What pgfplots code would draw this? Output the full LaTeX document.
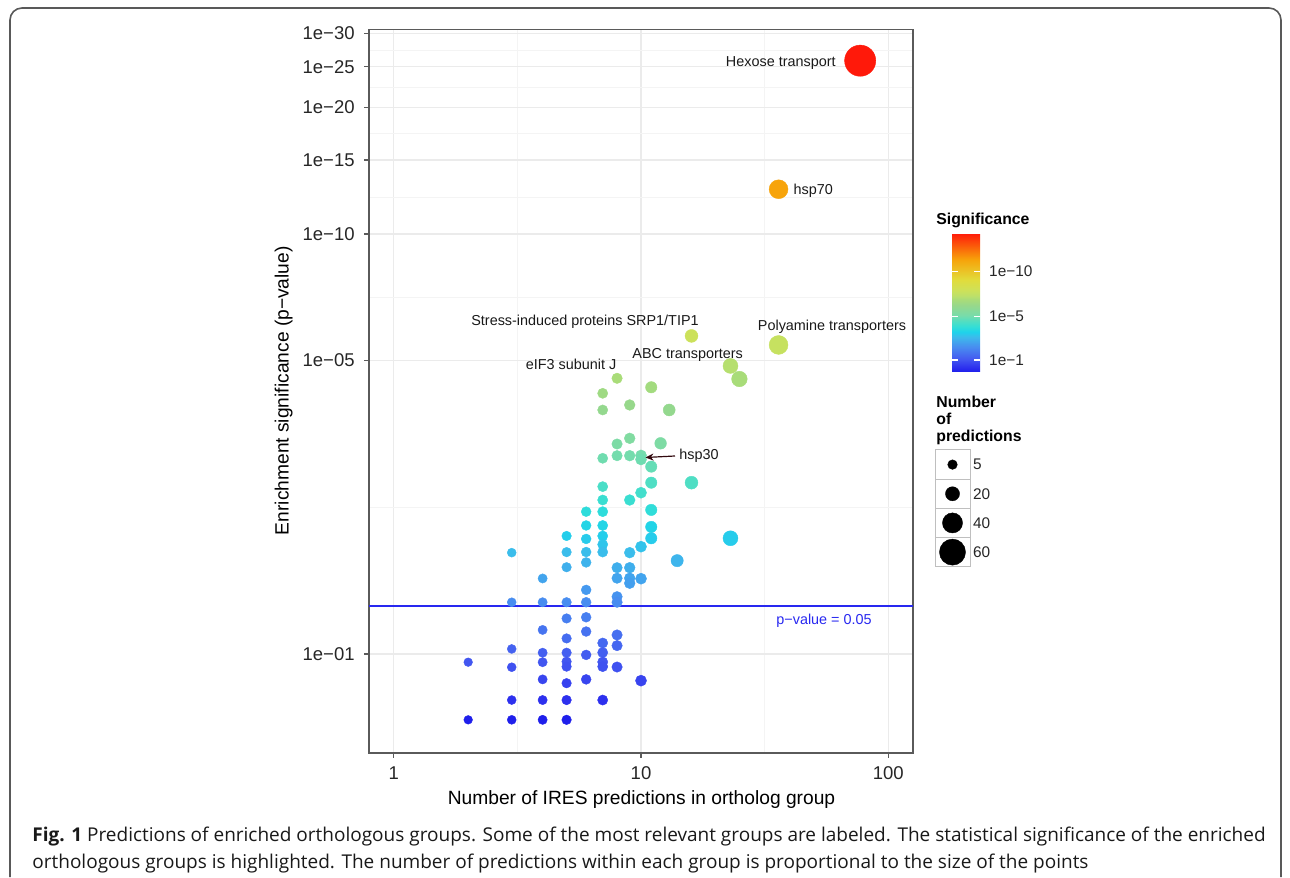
\documentclass[border=0pt]{standalone}
\usepackage{pgfplots}
\usepackage{pgfplotstable}
\pgfplotsset{compat=1.18}
\usepackage{fontspec}
\setmainfont{Liberation Sans}
\newfontfamily\capfont{Open Sans}
\usetikzlibrary{arrows.meta}

\newcommand\fs[2]{\fontsize{#1}{#2}\selectfont}
\definecolor{gridmaj}{HTML}{EBEBEB}
\definecolor{gridmin}{HTML}{F4F4F4}
\definecolor{frame}{HTML}{5A5A5A}
\definecolor{pline}{RGB}{40,40,240}
\definecolor{arrowcol}{RGB}{50,10,15}

% colour scale over log10(-log10 p)
\pgfplotsset{
  colormap={sig}{
    rgb255(0pt)=(30,30,235) rgb255(5pt)=(45,48,238) rgb255(15pt)=(68,90,240)
    rgb255(28pt)=(72,140,240) rgb255(40pt)=(60,188,235) rgb255(45pt)=(30,210,235)
    rgb255(51pt)=(50,222,215) rgb255(57pt)=(80,222,195) rgb255(64pt)=(120,220,170)
    rgb255(75pt)=(150,216,140) rgb255(82pt)=(170,220,120) rgb255(86pt)=(188,224,106)
    rgb255(92pt)=(205,225,90) rgb255(104pt)=(225,220,60) rgb255(127pt)=(247,163,10)
    rgb255(157pt)=(255,25,10)
  }
}

% n = number of IRES predictions, t = -log10(p-value)
\pgfplotstableread{
n t
2 0.956
2 0.697
3 1.743
3 1.328
3 1.028
3 0.930
3 0.777
3 0.697
4 1.513
4 1.328
4 1.141
4 1.007
4 0.956
4 0.870
4 0.777
4 0.697
5 1.910
5 1.748
5 1.609
5 1.328
5 1.215
5 1.089
5 1.007
5 0.959
5 0.933
5 0.852
5 0.777
5 0.697
6 2.182
6 2.023
6 1.879
6 1.749
6 1.652
6 1.421
6 1.328
6 1.223
6 1.131
6 0.995
6 0.870
7 4.175
7 3.811
7 2.924
7 2.503
7 2.326
7 2.182
7 2.023
7 1.910
7 1.823
7 1.749
7 1.062
7 1.008
7 0.957
7 0.933
7 0.777
8 4.533
8 3.162
8 2.966
8 1.605
8 1.515
8 1.369
8 1.328
8 1.110
8 1.047
8 0.931
9 3.917
9 3.262
9 2.966
9 2.326
9 1.743
9 1.605
9 1.515
9 1.474
10 2.970
10 2.905
10 2.421
10 1.801
10 1.511
10 0.864
11 4.315
11 2.793
11 2.558
11 2.203
11 2.007
11 1.886
12 3.174
13 3.811
14 1.668
16 5.719
16 2.558
23 4.851
23 1.886
25 4.516
36 12.78
36 5.443
77 25.86
}\groups

\begin{document}
\begin{tikzpicture}
\path (0,0) rectangle (645pt,438.5pt);

\begin{axis}[
  at={(184.5pt,62pt)}, anchor=south west,
  scale only axis, width=272pt, height=361.85pt,
  xmode=log, ymode=log,
  xmin=0.7943, xmax=125.89, ymin=0.5811, ymax=30.72,
  xtick={1,10,100}, xticklabels={1,10,100},
  ytick={1,5,10,15,20,25,30},
  yticklabels={1e−01,1e−05,1e−10,1e−15,1e−20,1e−25,1e−30},
  minor xtick={3.1623,31.623},
  minor ytick={2.2361,7.0711,12.247,17.321,22.361,27.386},
  grid=both,
  major grid style={draw=gridmaj, line width=0.55pt},
  minor grid style={draw=gridmin, line width=0.35pt},
  minor tick length=0pt,
  tick pos=left, tick align=outside, major tick length=2.5pt,
  major tick style={draw=frame, line width=0.55pt},
  axis line style={draw=frame, line width=0.7pt},
  ticklabel style={font=\fs{9.25}{10}, text=black!85},
  xticklabel style={inner sep=0pt, anchor=north},
  yticklabel style={inner sep=0pt, anchor=east},
  xticklabel shift=4.2pt, yticklabel shift=4.5pt,
  colormap name=sig, point meta min=-0.16, point meta max=1.41,
  colorbar,
  colorbar style={
    at={(parent axis.north east)}, anchor=north west,
    xshift=11pt, yshift=-101.85pt,
    scale only axis, width=14pt, height=69.5pt,
    ytick={-0.0245,0.465,0.973}, yticklabels={1e−1,1e−5,1e−10},
    yticklabel pos=right,
    yticklabel style={font=\fs{7.7}{9}, text=black!85, inner sep=0pt, anchor=west, xshift=4.35pt},
    axis line style={draw=none},
    ytick style={draw=white, line width=0.6pt},
    major tick length=3pt, tick align=inside, ytick pos=both,
  },
]
\addplot[
  scatter, only marks, mark=*,
  mark options={line width=0.2pt},
  point meta={log10(\thisrow{t})},
  scatter/use mapped color={draw=mapped color, fill=mapped color},
  visualization depends on={\thisrow{n} \as \npred},
  scatter/@pre marker code/.append style={/tikz/mark size={2.025pt+0.075pt*\npred}},
] table[x=n, y=t] {\groups};
\addplot[pline, line width=1pt, forget plot] coordinates {(0.7943,1.301) (125.89,1.301)};
\end{axis}

% size legend
\begin{axis}[
  at={(467.5pt,213.5pt)}, anchor=north west, scale only axis,
  width=17.5pt, height=58.35pt,
  xmin=-0.5, xmax=0.5, ymin=-0.5, ymax=3.5, y dir=reverse,
  xtick=\empty, ytick={0,1,2,3}, yticklabels={5,20,40,60},
  yticklabel pos=right, major tick length=0pt,
  minor ytick={0.5,1.5,2.5}, yminorgrids, minor tick length=0pt,
  minor grid style={draw=black!25, line width=0.5pt},
  axis line style={draw=black!25, line width=0.5pt},
  yticklabel style={font=\fs{7.7}{9}, text=black!85, inner sep=0pt, anchor=west, xshift=1.35pt},
]
\addplot[
  scatter, only marks, mark=*,
  mark options={line width=0.2pt},
  scatter/use mapped color={draw=black, fill=black},
  visualization depends on={\thisrow{n} \as \npred},
  scatter/@pre marker code/.append style={/tikz/mark size={2.025pt+0.075pt*\npred}},
] table[x=x, y=y] {
x y n
0 0 5
0 1 20
0 2 40
0 3 60
};
\end{axis}

% everything below is placed in reference pixel coordinates (y downwards)
\begin{scope}[x=0.5pt, y=-0.5pt, yshift=438.5pt]
\draw[black!65, line width=0.8pt, rounded corners=6pt] (10,877) -- (10,8) -- (1281,8) -- (1281,877);

% legend titles
\node[anchor=base west, inner sep=0pt, font=\fs{7.9}{9}\bfseries] at (936,225) {Significance};
\node[anchor=base west, inner sep=0pt, font=\fs{7.9}{9}\bfseries] at (936,408) {Number};
\node[anchor=base west, inner sep=0pt, font=\fs{7.9}{9}\bfseries] at (936,425) {of};
\node[anchor=base west, inner sep=0pt, font=\fs{7.9}{9}\bfseries] at (936,442) {predictions};

% annotations
\begin{scope}[every node/.style={inner sep=0pt, font=\fs{7.2}{8}, text=black!90}]
\node[anchor=base east] at (836,67) {Hexose transport};
\node[anchor=base west] at (793.3,194.5) {hsp70};
\node[anchor=base] at (585,326) {Stress-induced proteins SRP1/TIP1};
\node[anchor=base] at (832,331) {Polyamine transporters};
\node[anchor=base] at (571,370) {eIF3 subunit J};
\node[anchor=base] at (687.7,359) {ABC transporters};
\node[anchor=base west] at (679,460) {hsp30};
\node[anchor=base west, text=pline] at (776,624.5) {p−value = 0.05};
\end{scope}
\draw[arrowcol, line width=0.6pt, -{Stealth[length=4pt,width=3.5pt]}] (675,456) -- (645.5,457.5);

% axis titles
\node[anchor=base, inner sep=0pt, font=\fs{9.6}{11}] at (641.5,805) {Number of IRES predictions in ortholog group};
\node[anchor=base, inner sep=0pt, rotate=90, font=\fs{9.6}{11}] at (288.6,390.7) {Enrichment significance (p−value)};

% caption
\node[anchor=base west, inner sep=0pt, font=\capfont\fs{9.5}{11}, text=black!90] at (32,841)
  {\textbf{Fig. 1} Predictions of enriched orthologous groups. Some of the most relevant groups are labeled. The statistical significance of the enriched};
\node[anchor=base west, inner sep=0pt, font=\capfont\fs{9.5}{11}, text=black!90] at (32,868)
  {orthologous groups is highlighted. The number of predictions within each group is proportional to the size of the points};
\end{scope}
\end{tikzpicture}
\end{document}
